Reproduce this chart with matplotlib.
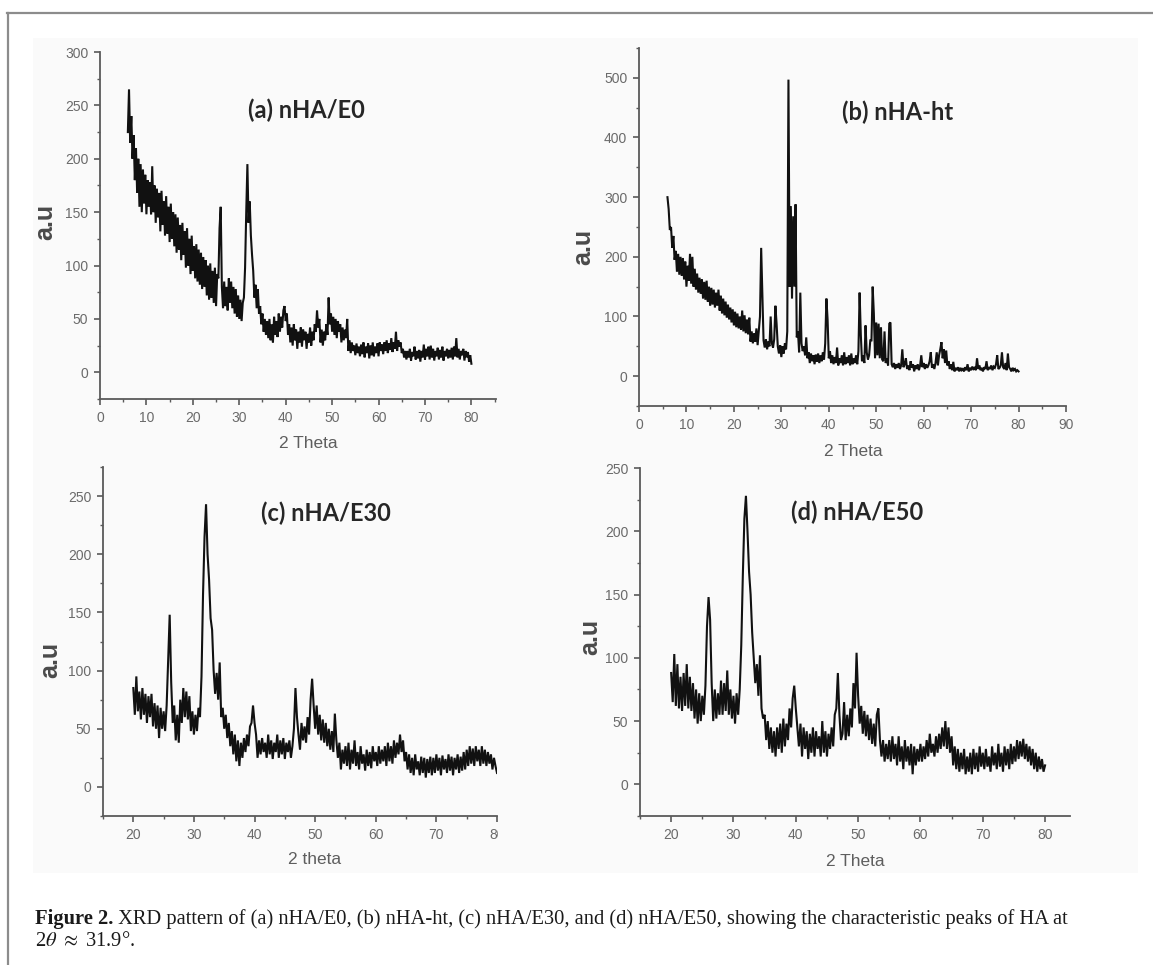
import numpy as np
import matplotlib
matplotlib.use("Agg")
import matplotlib.pyplot as plt
from matplotlib.ticker import MultipleLocator
from matplotlib.patches import Rectangle
from matplotlib.lines import Line2D
from matplotlib.transforms import Bbox, TransformedBbox

# ---------------- data (intensity, a.u., read every 0.25 deg) ----------------
theta_range_a = (6, 80)
intensity_a = [
    225, 265, 215, 240, 200, 222, 180, 210, 168, 200, 155, 195, 150, 190, 158, 185, 148, 180, 155, 178,
    148, 193, 150, 175, 140, 172, 145, 168, 132, 170, 138, 160, 128, 165, 130, 155, 122, 158, 125, 150,
    118, 148, 112, 145, 115, 138, 105, 140, 110, 132, 98, 135, 100, 125, 92, 128, 95, 118, 88, 120,
    85, 115, 82, 112, 78, 108, 80, 105, 72, 100, 68, 102, 70, 95, 65, 98, 62, 92, 88, 135,
    155, 80, 60, 85, 62, 80, 58, 88, 65, 85, 60, 80, 55, 78, 52, 72, 50, 68, 48, 65,
    70, 98, 150, 195, 140, 160, 128, 110, 95, 70, 82, 60, 78, 55, 62, 45, 55, 38, 50, 35,
    48, 32, 50, 30, 45, 28, 52, 35, 48, 33, 55, 38, 52, 42, 58, 62, 48, 55, 35, 45,
    28, 42, 25, 45, 30, 40, 22, 38, 28, 42, 24, 40, 30, 38, 22, 36, 28, 42, 25, 38,
    30, 45, 38, 58, 42, 50, 28, 40, 25, 38, 30, 45, 35, 70, 45, 55, 38, 52, 35, 50,
    32, 48, 38, 45, 28, 42, 30, 40, 32, 50, 20, 30, 18, 28, 20, 25, 16, 27, 18, 24,
    15, 26, 17, 28, 14, 24, 18, 27, 13, 25, 16, 28, 15, 24, 18, 27, 15, 28, 20, 26,
    17, 28, 20, 30, 18, 27, 21, 32, 19, 28, 22, 38, 20, 30, 24, 28, 18, 22, 14, 20,
    12, 20, 14, 22, 11, 19, 15, 24, 12, 20, 13, 21, 10, 20, 14, 26, 12, 22, 15, 24,
    12, 25, 14, 22, 11, 20, 15, 23, 12, 21, 14, 24, 11, 20, 15, 22, 13, 21, 14, 23,
    12, 24, 15, 32, 14, 22, 12, 20, 16, 22, 11, 20, 14, 19, 10, 16, 8,
]

theta_range_b = (6, 80)
intensity_b = [
    300, 280, 245, 250, 215, 235, 195, 210, 175, 205, 170, 200, 168, 198, 162, 192, 150, 185, 160, 205,
    155, 200, 150, 180, 145, 172, 140, 165, 138, 162, 130, 158, 128, 160, 125, 150, 118, 148, 120, 145,
    115, 140, 118, 145, 110, 135, 105, 130, 102, 125, 98, 120, 95, 115, 90, 112, 85, 108, 82, 105,
    80, 100, 78, 110, 75, 102, 72, 95, 70, 98, 58, 75, 55, 72, 58, 80, 52, 75, 100, 215,
    135, 60, 48, 62, 45, 58, 50, 100, 55, 48, 62, 118, 88, 50, 38, 52, 32, 50, 38, 55,
    45, 75, 497, 150, 285, 130, 268, 150, 288, 65, 75, 40, 140, 55, 42, 50, 35, 65, 30, 40,
    22, 38, 25, 35, 20, 36, 24, 38, 22, 35, 25, 40, 28, 55, 130, 95, 30, 42, 22, 35,
    20, 32, 22, 48, 18, 30, 22, 35, 18, 40, 20, 32, 22, 35, 18, 38, 20, 30, 22, 35,
    20, 42, 140, 70, 25, 35, 22, 85, 40, 28, 35, 60, 60, 150, 105, 30, 90, 35, 88, 30,
    82, 28, 25, 75, 22, 30, 18, 88, 90, 20, 15, 22, 12, 20, 14, 22, 12, 18, 45, 15,
    20, 30, 12, 18, 10, 25, 14, 20, 8, 18, 12, 20, 10, 18, 35, 15, 22, 12, 20, 14,
    18, 25, 40, 14, 20, 12, 22, 40, 18, 35, 45, 57, 30, 45, 22, 43, 18, 25, 12, 20,
    10, 24, 8, 14, 10, 15, 8, 14, 10, 12, 8, 15, 10, 20, 8, 14, 10, 16, 12, 14,
    10, 30, 12, 18, 10, 14, 8, 15, 12, 25, 10, 15, 12, 18, 10, 16, 14, 20, 35, 12,
    14, 18, 40, 15, 12, 22, 10, 38, 15, 12, 8, 14, 10, 12, 8, 10, 8,
]

theta_range_c = (20, 80)
intensity_c = [
    85, 62, 95, 65, 82, 58, 85, 62, 80, 55, 78, 60, 80, 52, 72, 50, 70, 42, 68, 50,
    65, 48, 70, 110, 148, 90, 55, 70, 40, 62, 38, 75, 55, 85, 60, 82, 58, 78, 48, 65,
    45, 62, 48, 68, 60, 95, 165, 215, 243, 200, 178, 145, 135, 100, 80, 98, 75, 107, 60, 68,
    50, 62, 42, 55, 35, 48, 28, 45, 22, 40, 18, 38, 25, 42, 30, 45, 35, 52, 55, 70,
    55, 45, 25, 40, 28, 42, 30, 38, 25, 45, 28, 40, 24, 38, 30, 45, 25, 40, 28, 42,
    24, 38, 30, 40, 25, 35, 50, 85, 60, 45, 32, 55, 40, 52, 38, 60, 45, 75, 93, 70,
    50, 70, 45, 62, 40, 58, 38, 55, 35, 50, 32, 48, 30, 63, 40, 25, 38, 15, 32, 20,
    35, 18, 38, 15, 32, 20, 40, 18, 30, 15, 35, 20, 28, 14, 32, 18, 30, 16, 35, 22,
    30, 18, 35, 20, 32, 22, 35, 18, 38, 22, 35, 20, 40, 25, 38, 28, 45, 30, 40, 22,
    30, 15, 28, 12, 25, 10, 28, 15, 22, 10, 26, 12, 25, 8, 24, 12, 26, 10, 25, 12,
    28, 14, 25, 10, 27, 15, 24, 12, 28, 14, 26, 10, 25, 15, 28, 12, 26, 14, 30, 15,
    32, 18, 35, 20, 33, 18, 35, 22, 32, 18, 35, 20, 32, 18, 30, 20, 28, 15, 25, 18,
    12,
]

theta_range_d = (20, 80)
intensity_d = [
    88, 65, 103, 62, 95, 60, 85, 58, 88, 62, 95, 60, 85, 58, 80, 52, 75, 48, 72, 50,
    70, 55, 78, 125, 148, 130, 80, 50, 75, 52, 72, 55, 82, 55, 80, 58, 90, 55, 75, 52,
    70, 48, 72, 55, 75, 110, 165, 210, 228, 200, 168, 150, 120, 100, 80, 95, 70, 102, 60, 52,
    55, 35, 50, 28, 45, 25, 42, 22, 45, 28, 48, 25, 52, 30, 48, 35, 60, 45, 68, 78,
    60, 45, 30, 48, 22, 45, 28, 42, 20, 40, 25, 45, 22, 42, 28, 38, 22, 50, 25, 42,
    22, 40, 28, 45, 30, 55, 60, 88, 55, 35, 40, 65, 35, 55, 38, 60, 45, 80, 60, 104,
    70, 48, 62, 40, 58, 38, 55, 35, 52, 32, 48, 30, 55, 60, 35, 22, 35, 18, 32, 20,
    35, 18, 38, 20, 32, 15, 38, 18, 30, 12, 35, 18, 30, 15, 32, 8, 30, 15, 28, 18,
    32, 18, 30, 20, 35, 22, 40, 25, 32, 22, 38, 25, 40, 28, 45, 30, 50, 28, 45, 25,
    38, 15, 30, 12, 28, 10, 25, 12, 28, 8, 22, 10, 25, 8, 28, 12, 25, 10, 30, 14,
    25, 12, 28, 14, 22, 10, 30, 15, 25, 12, 32, 14, 25, 10, 30, 15, 28, 12, 32, 16,
    30, 18, 35, 20, 34, 22, 36, 20, 32, 18, 30, 15, 28, 12, 25, 10, 22, 12, 20, 10,
    15,
]

panel_titles = ["(a) nHA/E0", "(b) nHA-ht", "(c) nHA/E30", "(d) nHA/E50"]
x_labels = ["2 Theta", "2 Theta", "2 theta", "2 Theta"]
y_label = "a.u"
caption_bold = "Figure 2."
caption_rest = (" XRD pattern of (a) nHA/E0, (b) nHA-ht, (c) nHA/E30, and (d) nHA/E50, "
                "showing the characteristic peaks of HA at")
caption_line2 = r"2$\theta$ $\approx$ 31.9°."

# ---------------- figure ----------------
W, H = 1153, 965
plt.rcParams["mathtext.fontset"] = "stix"
fig = plt.figure(figsize=(W / 100, H / 100), dpi=100)
fig.patch.set_facecolor("white")


def fx(px):
    return px / W


def fy(py):
    return 1 - py / H


# light image background and page frame
fig.add_artist(Rectangle((fx(33), fy(873)), fx(1138) - fx(33), fy(38) - fy(873),
                         transform=fig.transFigure, facecolor="#fafafa", edgecolor="none", zorder=0))
fig.add_artist(Line2D([fx(7), 1.0], [fy(13), fy(13)], transform=fig.transFigure,
                      color="#8c8c8c", lw=1.6))
fig.add_artist(Line2D([fx(8), fx(8)], [fy(13), 0.0], transform=fig.transFigure,
                      color="#8c8c8c", lw=1.6))

panels = [
    dict(rect=(100, 52, 496, 399), xr=theta_range_a, y=intensity_a, xlim=(0, 85.3), ylim=(-25, 300),
         ymaj=50, ymin=25, xticks=range(0, 81, 10), title_xy=(306, 110),
         ylab_xy=(45, 222), xlab_xy=(308, 443)),
    dict(rect=(639, 48, 1066, 406), xr=theta_range_b, y=intensity_b, xlim=(0, 90), ylim=(-50, 550),
         ymaj=100, ymin=50, xticks=range(0, 91, 10), title_xy=(898, 112),
         ylab_xy=(583, 247), xlab_xy=(853, 452)),
    dict(rect=(103, 467, 497, 816), xr=theta_range_c, y=intensity_c, xlim=(15, 80), ylim=(-25, 275),
         ymaj=50, ymin=25, xticks=range(20, 81, 10), title_xy=(326, 513),
         ylab_xy=(50, 660), xlab_xy=(315, 860)),
    dict(rect=(640, 468, 1070, 816), xr=theta_range_d, y=intensity_d, xlim=(15, 84), ylim=(-25, 250),
         ymaj=50, ymin=25, xticks=range(20, 81, 10), title_xy=(857, 512),
         ylab_xy=(590, 637), xlab_xy=(855, 862)),
]

spine_col = "#5a5a5a"
tick_lab_col = "#6a6a6a"
axes = []
for i, p in enumerate(panels):
    l, t, r, b = p["rect"]
    ax = fig.add_axes([fx(l), fy(b), fx(r) - fx(l), fy(t) - fy(b)])
    ax.set_facecolor("none")
    yv = np.array(p["y"], dtype=float)
    xv = np.linspace(p["xr"][0], p["xr"][1], len(yv))
    ax.plot(xv, yv, color="#111111", lw=1.5, solid_joinstyle="miter")
    ax.set_xlim(*p["xlim"])
    ax.set_ylim(*p["ylim"])
    for s in ["top", "right"]:
        ax.spines[s].set_visible(False)
    for s in ["left", "bottom"]:
        ax.spines[s].set_color(spine_col)
        ax.spines[s].set_linewidth(1.3)
    ax.yaxis.set_major_locator(MultipleLocator(p["ymaj"]))
    ax.yaxis.set_minor_locator(MultipleLocator(p["ymin"]))
    ax.set_xticks(list(p["xticks"]))
    ax.xaxis.set_minor_locator(MultipleLocator(5))
    ax.tick_params(which="major", direction="out", length=4.5, width=1.2, color=spine_col,
                   labelsize=10, labelcolor=tick_lab_col, pad=4)
    ax.tick_params(which="minor", direction="out", length=2.5, width=1.0, color=spine_col)
    for lab in ax.get_xticklabels() + ax.get_yticklabels():
        lab.set_fontfamily("Liberation Sans")
    axes.append(ax)

    fig.text(fx(p["title_xy"][0]), fy(p["title_xy"][1]), panel_titles[i],
             family="Lato", weight="bold", fontsize=17, color="#262626",
             ha="center", va="center")
    fig.text(fx(p["ylab_xy"][0]), fy(p["ylab_xy"][1]), y_label,
             family="Liberation Sans", weight="bold", fontsize=18, color="#4a4a4a",
             rotation=90, ha="center", va="center")
    fig.text(fx(p["xlab_xy"][0]), fy(p["xlab_xy"][1]), x_labels[i],
             family="Liberation Sans", fontsize=12.5, color="#5e5e5e",
             ha="center", va="center")

# panel (c): the last tick label is cut at the right edge of the image
fig.canvas.draw()
ax_c = axes[2]
clip = TransformedBbox(Bbox([[0, 0], [fx(498), 1]]), fig.transFigure)
for lab in ax_c.get_xticklabels():
    lab.set_clip_box(clip)
    lab.set_clip_on(True)

# caption
cap_size = 14.8
cap = fig.text(fx(35), fy(919), caption_bold, family="Liberation Serif", weight="bold",
               fontsize=cap_size, color="#1a1a1a", ha="left", va="center")
plt.annotate(caption_rest, xy=(1, 0), xycoords=cap, xytext=(0, 0), textcoords="offset points",
             ha="left", va="bottom", family="Liberation Serif", fontsize=cap_size, color="#1a1a1a",
             annotation_clip=False)
fig.text(fx(35), fy(941), caption_line2, family="Liberation Serif", fontsize=cap_size,
         color="#1a1a1a", ha="left", va="center")

fig.savefig("out.png", dpi=100, facecolor="white")
